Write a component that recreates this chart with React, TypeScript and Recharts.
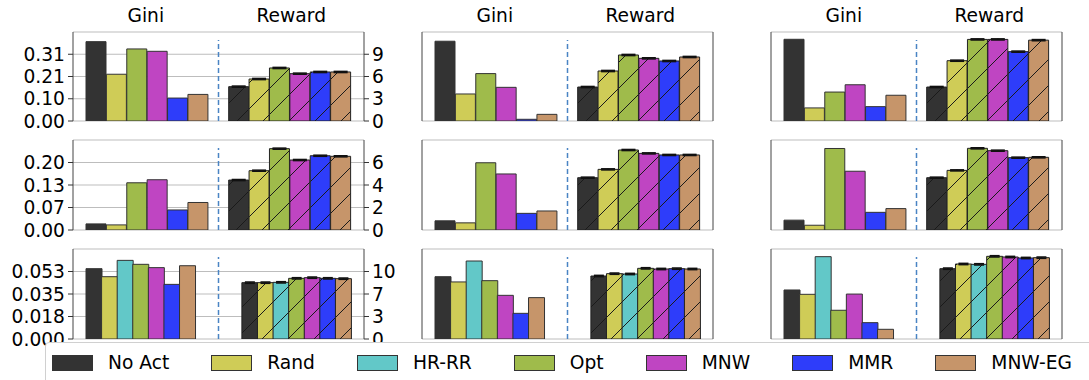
import React from 'react';
import {
  BarChart,
  Bar,
  XAxis,
  YAxis,
  CartesianGrid,
  ReferenceLine,
  ErrorBar,
  Cell,
} from 'recharts';

const FONT = '"DejaVu Sans", sans-serif';

const methodColors: Record<string, string> = {
  'No Act': '#333333',
  Rand: '#cfcc57',
  'HR-RR': '#62c8c8',
  Opt: '#9fbb4b',
  MNW: '#bf45c2',
  MMR: '#2e3dfa',
  'MNW-EG': '#c6956a',
};
const legendMethods = ['No Act', 'Rand', 'HR-RR', 'Opt', 'MNW', 'MMR', 'MNW-EG'];

// methods shown in each row of panels
const rowMethods = [
  ['No Act', 'Rand', 'Opt', 'MNW', 'MMR', 'MNW-EG'],
  ['No Act', 'Rand', 'Opt', 'MNW', 'MMR', 'MNW-EG'],
  ['No Act', 'Rand', 'HR-RR', 'Opt', 'MNW', 'MMR', 'MNW-EG'],
];

// axis ranges and tick labels per row (shared across the row)
const giniMax = [0.415, 0.265, 0.0705];
const rewardMax = [12, 8, 13.5];
const giniTickLabels = [
  ['0.00', '0.10', '0.21', '0.31'],
  ['0.00', '0.07', '0.13', '0.20'],
  ['0.000', '0.018', '0.035', '0.053'],
];
const rewardTickLabels = [
  ['0', '3', '6', '9'],
  ['0', '2', '4', '6'],
  ['0', '3', '7', '10'],
];

// Gini values
const giniR1C1 = [0.370, 0.218, 0.336, 0.325, 0.107, 0.124];
const giniR1C2 = [0.372, 0.126, 0.221, 0.157, 0.008, 0.031];
const giniR1C3 = [0.381, 0.061, 0.135, 0.169, 0.067, 0.120];
const giniR2C1 = [0.018, 0.015, 0.139, 0.148, 0.059, 0.081];
const giniR2C2 = [0.027, 0.021, 0.198, 0.165, 0.049, 0.056];
const giniR2C3 = [0.029, 0.014, 0.240, 0.173, 0.052, 0.063];
const giniR3C1 = [0.0551, 0.0488, 0.0616, 0.0585, 0.0559, 0.0428, 0.0574];
const giniR3C2 = [0.0488, 0.0447, 0.0611, 0.0457, 0.0342, 0.0201, 0.0324];
const giniR3C3 = [0.0384, 0.0350, 0.0645, 0.0225, 0.0352, 0.0128, 0.0076];

// Reward values
const rewardR1C1 = [4.63, 5.66, 7.15, 6.38, 6.61, 6.61];
const rewardR1C2 = [4.58, 6.74, 8.90, 8.45, 8.09, 8.63];
const rewardR1C3 = [4.58, 8.13, 11.0, 11.0, 9.35, 10.9];
const rewardR2C1 = [4.44, 5.27, 7.23, 6.22, 6.60, 6.55];
const rewardR2C2 = [4.65, 5.39, 7.11, 6.81, 6.67, 6.67];
const rewardR2C3 = [4.65, 5.30, 7.26, 7.05, 6.43, 6.46];
const rewardR3C1 = [8.45, 8.45, 8.50, 9.10, 9.20, 9.10, 9.05];
const rewardR3C2 = [9.45, 9.80, 9.75, 10.6, 10.5, 10.55, 10.5];
const rewardR3C3 = [10.55, 11.25, 11.2, 12.4, 12.3, 12.15, 12.2];

// small std errors on reward
const rewardErr = [0.08, 0.05, 0.1];

const giniValues = [
  [giniR1C1, giniR1C2, giniR1C3],
  [giniR2C1, giniR2C2, giniR2C3],
  [giniR3C1, giniR3C2, giniR3C3],
];
const rewardValues = [
  [rewardR1C1, rewardR1C2, rewardR1C3],
  [rewardR2C1, rewardR2C2, rewardR2C3],
  [rewardR3C1, rewardR3C2, rewardR3C3],
];
const gapSlots = [['gap'], ['gap'], ['gap0', 'gap1', 'gap2']];

// layout
const FRAME_LEFT = [73, 422, 771];
const FRAME_TOP = [32, 140, 249];
const FRAME_H = [89, 90, 90];
const FRAME_W = 291;
const AXIS_L = 75;
const AXIS_R = 40;
const PAD_V = 10;

const tickStyle = { fill: '#000', fontSize: 18.67, fontFamily: FONT };

const Panel = ({ row, col }: { row: number; col: number }) => {
  const ms = rowMethods[row];
  const gv = giniValues[row][col];
  const rv = rewardValues[row][col];
  const gaps = gapSlots[row];
  const data = [
    ...ms.map((m, i) => ({ key: 'g' + i, gini: gv[i], method: m })),
    ...gaps.map((g) => ({ key: g, method: '' })),
    ...ms.map((m, i) => ({ key: 'r' + i, reward: rv[i], err: rewardErr[row], method: m })),
  ];
  const gTicks = [0, 1, 2, 3].map((k) => (giniMax[row] * k) / 4);
  const rTicks = [0, 1, 2, 3].map((k) => (rewardMax[row] * k) / 4);
  const midGap = gaps[Math.floor(gaps.length / 2)];
  const showLabels = col === 0;
  const pid = `${row}-${col}`;

  return (
    <div
      style={{
        position: 'absolute',
        left: FRAME_LEFT[col] - AXIS_L,
        top: FRAME_TOP[row] - PAD_V,
      }}
    >
      <BarChart
        width={FRAME_W + AXIS_L + AXIS_R}
        height={FRAME_H[row] + 2 * PAD_V}
        data={data}
        margin={{ top: PAD_V, bottom: PAD_V, left: 0, right: 0 }}
        barCategoryGap={0}
        barGap={0}
      >
        <defs>
          {ms.map((m, i) => (
            <pattern
              key={m}
              id={`hatch-${pid}-${i}`}
              patternUnits="userSpaceOnUse"
              width={26}
              height={26}
            >
              <rect width={26} height={26} fill={methodColors[m]} />
              <path d="M-2,2 L2,-2 M0,26 L26,0 M24,28 L28,24" stroke="#1a1a1a" strokeWidth={1} />
            </pattern>
          ))}
        </defs>
        <CartesianGrid
          xAxisId="g"
          yAxisId="gini"
          vertical={false}
          stroke="#bdbdbd"
          strokeWidth={1.2}
        />
        <XAxis
          xAxisId="g"
          dataKey="key"
          type="category"
          padding={{ left: 13, right: 13 }}
          tick={false}
          tickLine={false}
          height={0}
          axisLine={{ stroke: '#555', strokeWidth: 1.5 }}
        />
        <XAxis
          xAxisId="r"
          orientation="top"
          dataKey="key"
          type="category"
          padding={{ left: 13, right: 13 }}
          tick={false}
          tickLine={false}
          height={0}
          axisLine={{ stroke: '#444' }}
        />
        <YAxis
          yAxisId="gini"
          orientation="left"
          width={AXIS_L}
          domain={[0, giniMax[row]]}
          ticks={gTicks}
          interval={0}
          allowDataOverflow
          tickFormatter={(v: number) =>
            giniTickLabels[row][gTicks.findIndex((t) => Math.abs(t - v) < 1e-9)]
          }
          tick={showLabels ? tickStyle : false}
          tickSize={5}
          tickMargin={3}
          axisLine={{ stroke: '#444' }}
          tickLine={{ stroke: '#333' }}
        />
        <YAxis
          yAxisId="reward"
          orientation="right"
          width={AXIS_R}
          domain={[0, rewardMax[row]]}
          ticks={rTicks}
          interval={0}
          allowDataOverflow
          tickFormatter={(v: number) =>
            rewardTickLabels[row][rTicks.findIndex((t) => Math.abs(t - v) < 1e-9)]
          }
          tick={showLabels ? { ...tickStyle, textAnchor: 'start' } : false}
          tickSize={5}
          tickMargin={3}
          axisLine={{ stroke: '#444' }}
          tickLine={{ stroke: '#333' }}
        />
        <Bar
          xAxisId="g"
          yAxisId="gini"
          dataKey="gini"
          stroke="#333"
          strokeWidth={1}
          isAnimationActive={false}
        >
          {data.map((d, i) => (
            <Cell key={i} fill={methodColors[d.method] || 'none'} />
          ))}
        </Bar>
        <Bar
          xAxisId="r"
          yAxisId="reward"
          dataKey="reward"
          stroke="#222"
          strokeWidth={1}
          isAnimationActive={false}
        >
          {data.map((d, i) => (
            <Cell
              key={i}
              fill={d.method ? `url(#hatch-${pid}-${ms.indexOf(d.method)})` : 'none'}
            />
          ))}
          <ErrorBar
            dataKey="err"
            width={row === 2 ? 5 : 7}
            stroke="#111"
            strokeWidth={1.5}
            direction="y"
          />
        </Bar>
        <ReferenceLine
          xAxisId="g"
          yAxisId="gini"
          segment={[
            { x: midGap, y: 0 },
            { x: midGap, y: giniMax[row] * 0.91 },
          ]}
          stroke="#4a84c4"
          strokeDasharray="5 3"
          strokeWidth={1.5}
        />
      </BarChart>
    </div>
  );
};

const App = () => {
  return (
    <div
      style={{
        position: 'absolute',
        left: 0,
        top: 0,
        width: 1089,
        height: 380,
        background: '#fff',
        overflow: 'hidden',
        fontFamily: FONT,
      }}
    >
      <svg
        width={1089}
        height={30}
        style={{ position: 'absolute', left: 0, top: 0 }}
      >
        {FRAME_LEFT.map((x) => (
          <g key={x}>
            <text x={x + FRAME_W / 4} y={22} textAnchor="middle" fontSize={18.67} fontFamily={FONT} fill="#000">
              Gini
            </text>
            <text x={x + (3 * FRAME_W) / 4} y={22} textAnchor="middle" fontSize={18.67} fontFamily={FONT} fill="#000">
              Reward
            </text>
          </g>
        ))}
      </svg>
      {[0, 1, 2].map((r) =>
        [0, 1, 2].map((c) => <Panel key={`${r}-${c}`} row={r} col={c} />)
      )}
      <div
        style={{
          position: 'absolute',
          left: 45,
          top: 342,
          width: 1070,
          height: 50,
          border: '1px solid #d0d0d0',
          borderRadius: 4,
          background: '#fff',
          display: 'flex',
          alignItems: 'flex-start',
          paddingLeft: 6,
          paddingTop: 9,
          boxSizing: 'border-box',
        }}
      >
        {legendMethods.map((m) => (
          <div
            key={m}
            style={{ display: 'flex', alignItems: 'center', marginRight: 42 }}
          >
            <div
              style={{
                width: 39,
                height: 14,
                background: methodColors[m],
                border: '1px solid #333',
                marginRight: 15,
              }}
            />
            <span style={{ fontSize: 18.67, lineHeight: '22px', color: '#000' }}>{m}</span>
          </div>
        ))}
      </div>
    </div>
  );
};

export default App;
